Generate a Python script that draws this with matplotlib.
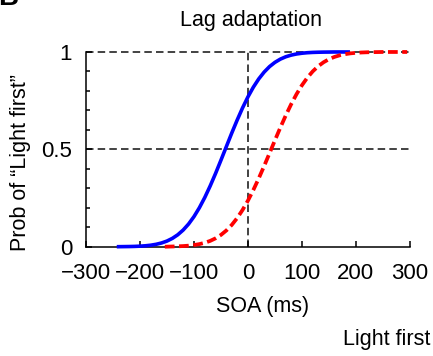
import matplotlib
matplotlib.use('Agg')
import matplotlib.pyplot as plt
from matplotlib.ticker import MultipleLocator

plt.rcParams['font.family'] = ['Liberation Sans', 'DejaVu Sans']

# SOA (ms) and probability of "Light first"
soa_blue = [-243, -230, -220, -210, -200, -190, -180, -170, -160, -150,
            -140, -130, -120, -110, -100, -90, -80, -70, -60, -50, -40,
            -30, -20, -10, 0, 10, 20, 30, 40, 50, 60, 70, 80, 90, 100,
            110, 120, 130, 140, 150, 160, 189]
prob_blue = [0.0, 0.0005, 0.0009, 0.0016, 0.0028, 0.0047, 0.0077, 0.0124,
             0.0192, 0.029, 0.0428, 0.0613, 0.0856, 0.1164, 0.1544, 0.1999,
             0.2525, 0.3117, 0.376, 0.4443, 0.514, 0.5835, 0.65, 0.7127,
             0.7694, 0.8192, 0.8616, 0.8967, 0.9249, 0.9467, 0.9632, 0.9753,
             0.9838, 0.9897, 0.9936, 0.9962, 0.9978, 0.9987, 0.9993, 0.9996,
             1.0, 1.0]

soa_red = [-154, -140, -130, -120, -110, -100, -90, -80, -70, -60, -50,
           -40, -30, -20, -10, 0, 10, 20, 30, 40, 50, 60, 70, 80, 90, 100,
           110, 120, 130, 140, 150, 160, 170, 180, 190, 200, 210, 220, 230,
           240, 250, 295]
prob_red = [0.0, 0.0011, 0.002, 0.0033, 0.0054, 0.0086, 0.0133, 0.0202,
            0.0298, 0.043, 0.0606, 0.0833, 0.1118, 0.1469, 0.1886, 0.2367,
            0.2912, 0.3507, 0.4142, 0.4801, 0.5465, 0.6115, 0.6736, 0.7313,
            0.7833, 0.8289, 0.8679, 0.9003, 0.9265, 0.947, 0.9627, 0.9744,
            0.9829, 0.9888, 0.9929, 0.9956, 0.9973, 0.9984, 0.9991, 0.9995,
            1.0, 1.0]

xticks = [-300, -200, -100, 0, 100, 200, 300]
xtick_labels = ['\u2212300', '\u2212200', '\u2212100', '0', '100', '200', '300']
yticks = [0, 0.5, 1]
ytick_labels = ['0', '0.5', '1']

fig = plt.figure(figsize=(4.33, 3.56), dpi=100)
ax = fig.add_axes([0.1986, 0.307, 0.748, 0.547])

# reference lines
ref = dict(color='#222222', lw=1.2, ls=(0, (4.5, 2.5)), clip_on=False, zorder=1)
ax.plot([-300, 300], [1, 1], **ref)
ax.plot([-300, 300], [0.5, 0.5], **ref)
ax.plot([0, 0], [0, 1], **ref)

ax.plot(soa_blue, prob_blue, color='#0000ff', lw=2.6, clip_on=False, zorder=3,
        solid_capstyle='butt')
ax.plot(soa_red, prob_red, color='#ff0000', lw=2.7, ls=(0, (2.6, 1.2)),
        clip_on=False, zorder=4)

ax.set_xlim(-300, 300)
ax.set_ylim(0, 1)
ax.spines['top'].set_visible(False)
ax.spines['right'].set_visible(False)
ax.spines['left'].set_linewidth(1.1)
ax.spines['bottom'].set_linewidth(1.1)

ax.set_xticks(xticks)
ax.set_xticklabels(xtick_labels)
ax.set_yticks(yticks)
ax.set_yticklabels(ytick_labels)
ax.yaxis.set_minor_locator(MultipleLocator(0.1))
ax.tick_params(axis='both', which='major', direction='in', length=4,
               width=1.1, labelsize=16)
ax.tick_params(axis='x', which='major', pad=12)
ax.tick_params(axis='y', which='major', pad=10)
ax.tick_params(axis='y', which='minor', direction='in', length=3, width=1.1)

ax.set_xlabel('SOA (ms)', fontsize=15.5)
ax.xaxis.set_label_coords(0.545, -0.255)
ax.set_ylabel('Prob of \u201cLight first\u201d', fontsize=15.5)
ax.yaxis.set_label_coords(-0.17, 0.43)

fig.text(250.5 / 433, 0.927, 'Lag adaptation', fontsize=15.5, ha='center',
         va='baseline')
fig.text(0.993, 0.031, 'Light first', fontsize=15.5, ha='right',
         va='baseline')
fig.text(-0.005, 0.986, 'B', fontsize=20, fontweight='bold', ha='left',
         va='baseline')

fig.savefig('out.png', dpi=100)
